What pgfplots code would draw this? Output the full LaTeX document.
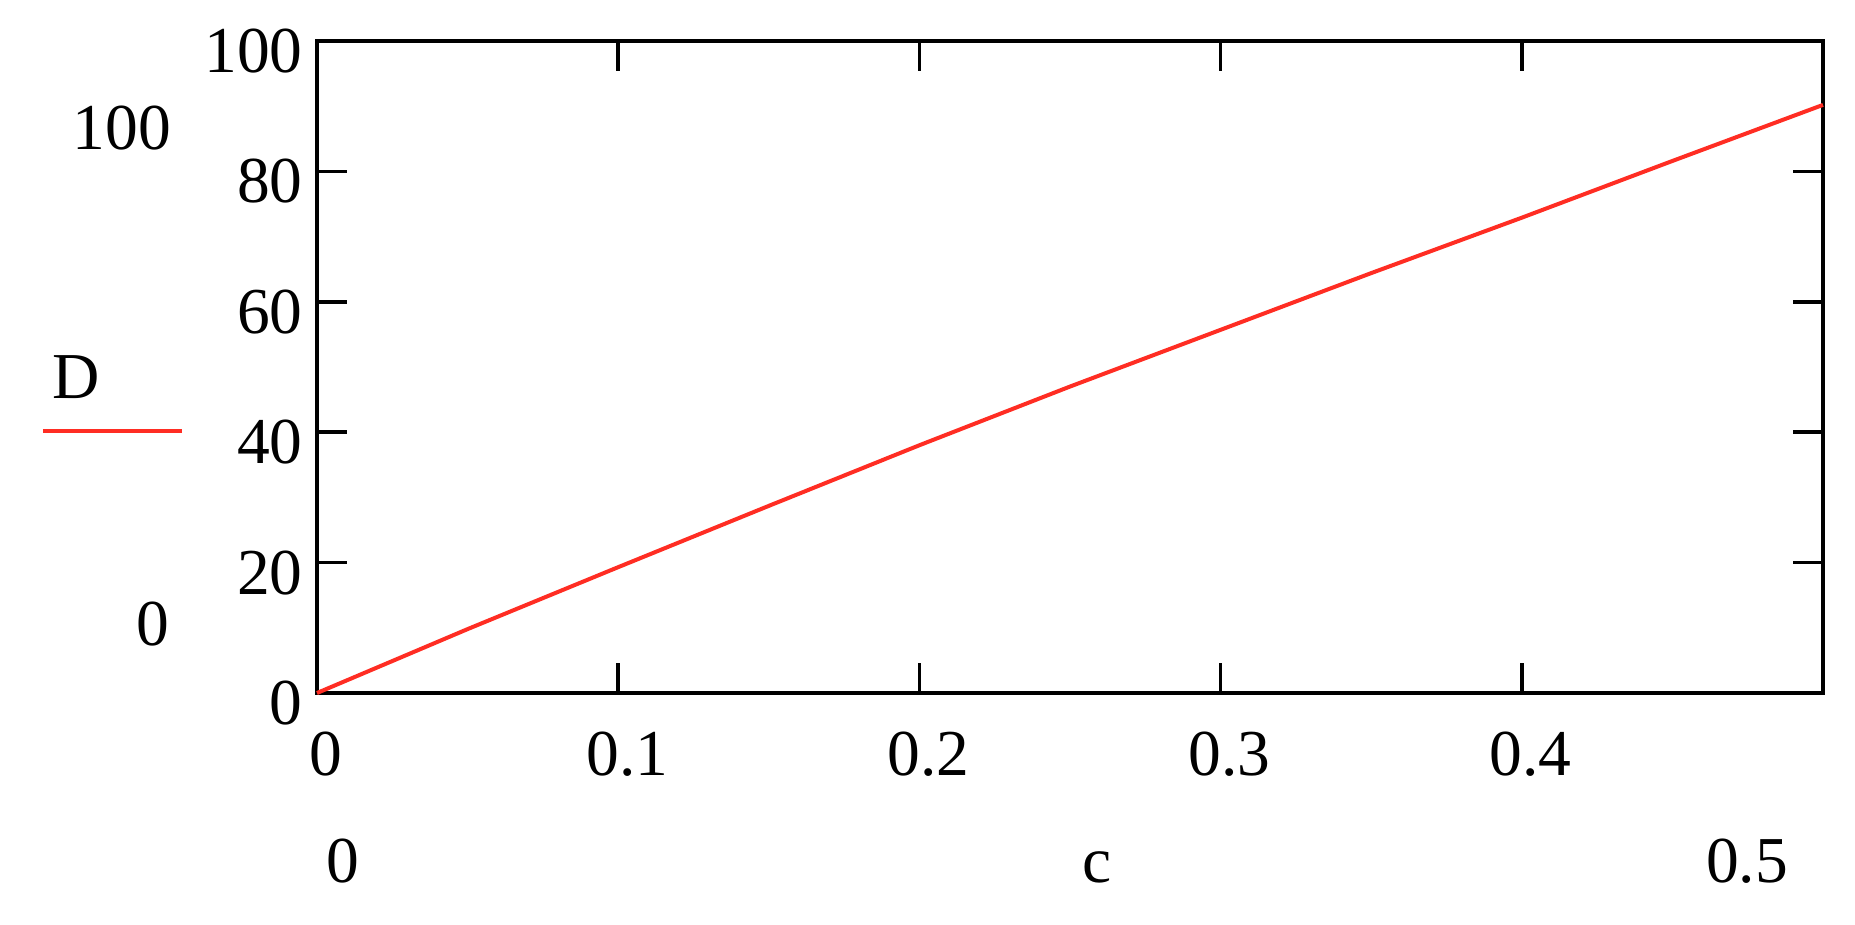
\documentclass[border=0pt]{standalone}
\usepackage{fontspec}
\setmainfont{Liberation Serif}
\usepackage{pgfplots}
\pgfplotsset{compat=1.18}
\definecolor{mcred}{RGB}{255,45,35}

\begin{document}
\begin{tikzpicture}[font=\fontsize{13.1}{16}\selectfont]
\useasboundingbox (-63.4pt,-46.2pt) rectangle (307.6pt,138.6pt);
\begin{axis}[
  at={(0pt,0pt)}, anchor=south west,
  scale only axis, width=301.2pt, height=130.4pt,
  xmin=0, xmax=0.5, ymin=0, ymax=100,
  xtick={0,0.1,0.2,0.3,0.4,0.5},
  xticklabels={0,0.1,0.2,0.3,0.4,{}},
  ytick={0,20,40,60,80,100},
  tick align=inside, major tick length=6pt,
  line width=0.95pt,
  axis line style={line width=0.95pt},
  every tick/.style={black, line width=0.75pt},
  xticklabel style={anchor=north, inner sep=0pt, yshift=-7.4pt, xshift=1.8pt},
  yticklabel style={anchor=east, inner sep=0pt, xshift=-2.4pt, yshift=-2pt},
  /pgf/number format/assume math mode=true,
  tick label style={font=\fontsize{13.1}{16}\selectfont},
  clip=false,
]
% D against c
\addplot[mcred, line width=0.8pt] coordinates {
  (0,0) (0.05,9.8) (0.1,19.3) (0.15,28.7) (0.2,38.0) (0.25,47.0)
  (0.3,55.7) (0.35,64.4) (0.4,72.9) (0.45,81.6) (0.5,90.2)
};
\end{axis}
% Mathcad-style limit labels and trace key
\node[anchor=base] at (-39pt,108.6pt) {100};
\node[anchor=base] at (-48.2pt,58.8pt) {D};
\draw[mcred, line width=0.8pt] (-54.8pt,52.4pt) -- (-27pt,52.4pt);
\node[anchor=base] at (-32.8pt,9.6pt) {0};
\node[anchor=base] at (5.2pt,-37.8pt) {0};
\node[anchor=base] at (156pt,-37.8pt) {c};
\node[anchor=base] at (286pt,-37.8pt) {0.5};
\end{tikzpicture}
\end{document}
